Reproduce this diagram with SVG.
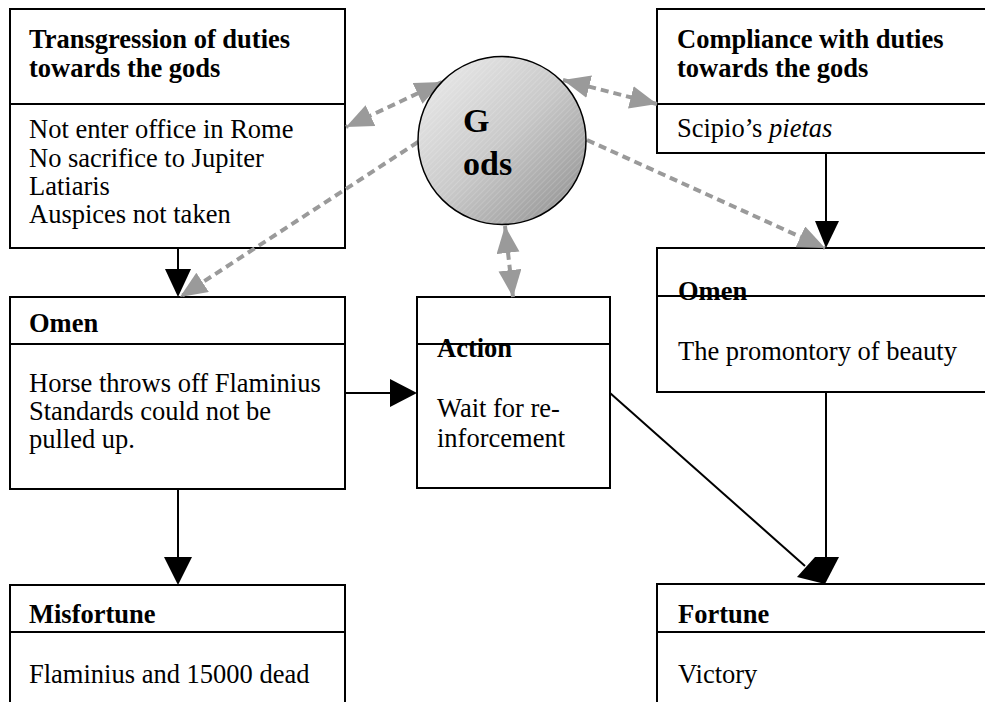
<svg xmlns="http://www.w3.org/2000/svg" width="985" height="702" viewBox="0 0 985 702">
  <style>
    .box { fill: #ffffff; stroke: #000000; stroke-width: 2; }
    .div { stroke: #000000; stroke-width: 2; }
    text { font-family: "Liberation Serif", "Times New Roman", serif; font-size: 26.5px; fill: #000000; }
    .hd { font-weight: bold; }
    .gods { font-weight: bold; font-size: 34px; }
    .flow { stroke: #000000; stroke-width: 2; fill: none; }
    .link { stroke: #9a9a9a; stroke-width: 4; stroke-dasharray: 8 5; fill: none; }
    .head { fill: #000000; }
  </style>
  <defs>
    <marker id="grayHead" markerUnits="userSpaceOnUse" markerWidth="28" markerHeight="24" refX="27" refY="11.5" orient="auto-start-reverse" viewBox="0 0 28 24">
      <path d="M0,0 L27,11.5 L0,23 Z" fill="#9a9a9a"/>
    </marker>
    <linearGradient id="godsFill" x1="0" y1="0" x2="1" y2="1">
      <stop offset="0" stop-color="#eeeeee"/>
      <stop offset="0.5" stop-color="#c9c9c9"/>
      <stop offset="1" stop-color="#8c8c8c"/>
    </linearGradient>
    <pattern id="hatch" width="4" height="4" patternUnits="userSpaceOnUse" patternTransform="rotate(45)">
      <line x1="0" y1="0" x2="0" y2="4" stroke="#ffffff" stroke-opacity="0.3" stroke-width="1"/>
    </pattern>
  </defs>

  <!-- Transgression -->
  <g id="transgression">
    <rect class="box" x="10" y="9" width="335" height="239"/>
    <line class="div" x1="10" y1="104" x2="345" y2="104"/>
    <text class="hd" x="29" y="48">Transgression of duties</text>
    <text class="hd" x="29" y="77">towards the gods</text>
    <text x="29" y="138">Not enter office in Rome</text>
    <text x="29" y="167">No sacrifice to Jupiter</text>
    <text x="29" y="195">Latiaris</text>
    <text x="29" y="223">Auspices not taken</text>
  </g>

  <!-- Compliance -->
  <g id="compliance">
    <rect class="box" x="657" y="9" width="340" height="144"/>
    <line class="div" x1="657" y1="104" x2="997" y2="104"/>
    <text class="hd" x="677" y="48">Compliance with duties</text>
    <text class="hd" x="677" y="77">towards the gods</text>
    <text x="677" y="137">Scipio’s <tspan font-style="italic">pietas</tspan></text>
  </g>

  <!-- Omen (left) -->
  <g id="omen-left">
    <rect class="box" x="10" y="297" width="335" height="192"/>
    <line class="div" x1="10" y1="344" x2="345" y2="344"/>
    <text class="hd" x="29" y="332">Omen</text>
    <text x="29" y="392">Horse throws off Flaminius</text>
    <text x="29" y="420">Standards could not be</text>
    <text x="29" y="448">pulled up.</text>
  </g>

  <!-- Action -->
  <g id="action">
    <rect class="box" x="417" y="297" width="193" height="191"/>
    <text class="hd" x="437" y="357">Action</text>
    <line class="div" x1="417" y1="344" x2="610" y2="344"/>
    <text x="437" y="417">Wait for re-</text>
    <text x="437" y="447">inforcement</text>
  </g>

  <!-- Omen (right) -->
  <g id="omen-right">
    <rect class="box" x="657" y="248" width="340" height="144"/>
    <text class="hd" x="678" y="300">Omen</text>
    <line class="div" x1="657" y1="296" x2="997" y2="296"/>
    <text x="678" y="360">The promontory of beauty</text>
  </g>

  <!-- Misfortune -->
  <g id="misfortune">
    <rect class="box" x="10" y="585" width="335" height="130"/>
    <line class="div" x1="10" y1="632" x2="345" y2="632"/>
    <text class="hd" x="29" y="623">Misfortune</text>
    <text x="29" y="683">Flaminius and 15000 dead</text>
  </g>

  <!-- Fortune -->
  <g id="fortune">
    <rect class="box" x="657" y="584" width="340" height="130"/>
    <line class="div" x1="657" y1="632" x2="997" y2="632"/>
    <text class="hd" x="678" y="623">Fortune</text>
    <text x="678" y="683">Victory</text>
  </g>

  <!-- connectors (drawn over the boxes) -->
  <g id="connectors">
    <!-- dashed links from the Gods -->
    <line class="link" x1="442" y1="82" x2="346" y2="127" marker-start="url(#grayHead)" marker-end="url(#grayHead)"/>
    <line class="link" x1="563" y1="80" x2="657" y2="104" marker-start="url(#grayHead)" marker-end="url(#grayHead)"/>
    <line class="link" x1="587" y1="140" x2="825" y2="248" marker-end="url(#grayHead)"/>
    <line class="link" x1="418" y1="142" x2="180" y2="297" marker-end="url(#grayHead)"/>
    <line class="link" x1="505" y1="226" x2="513" y2="297" marker-start="url(#grayHead)" marker-end="url(#grayHead)"/>

    <!-- solid flow arrows -->
    <line class="flow" x1="178" y1="248" x2="178" y2="272"/>
    <polygon class="head" points="165,269 191,269 178,297"/>
    <line class="flow" x1="178" y1="489" x2="178" y2="560"/>
    <polygon class="head" points="164,557 192,557 178,585"/>
    <line class="flow" x1="345" y1="393" x2="392" y2="393"/>
    <polygon class="head" points="390,379 390,407 417,393"/>
    <line class="flow" x1="826" y1="153" x2="826" y2="224"/>
    <polygon class="head" points="815,221 839,221 826,248"/>
    <line class="flow" x1="826" y1="392" x2="826" y2="560"/>
    <line class="flow" x1="610" y1="393" x2="805" y2="566"/>
    <polygon class="head" points="797,577 815,557 839,557 825,584"/>
  </g>

  <!-- Gods -->
  <g id="gods">
    <circle cx="502" cy="140.5" r="84" fill="url(#godsFill)"/>
    <circle cx="502" cy="140.5" r="84" fill="url(#hatch)" stroke="#000000" stroke-width="1.5"/>
    <text class="gods" x="463" y="132">G</text>
    <text class="gods" x="463" y="175">ods</text>
  </g>
</svg>
